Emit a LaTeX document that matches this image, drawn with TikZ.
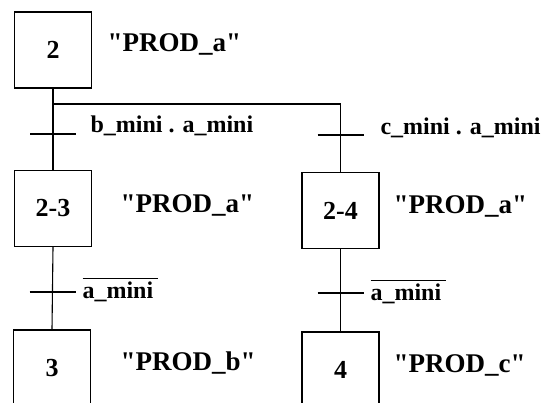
\documentclass[tikz,border=0pt]{standalone}
\usepackage{fontspec}
\setmainfont{Liberation Serif}
% negated receptivity: text with a bar over it
\newcommand{\negbar}[1]{\vbox{\hrule height 1.2pt\kern 3.5pt\hbox{#1\kern5pt}}}
\newcommand{\qt}[1]{\textquotedbl#1\textquotedbl}
\begin{document}
\begin{tikzpicture}[x=1pt,y=-1pt,
  line width=1.1pt,
  stepbox/.style={draw, line width=1.2pt, minimum width=77pt, minimum height=76pt,
    inner sep=0pt, font=\fontsize{26}{28}\selectfont\bfseries},
  action/.style={anchor=base west, inner sep=0pt, font=\fontsize{27}{30}\selectfont\bfseries},
  cond/.style={anchor=base west, inner sep=0pt, font=\fontsize{24}{26}\selectfont\bfseries},
  bar/.style={line width=1.1pt}]
\useasboundingbox (0,0) rectangle (544,403);
\clip (0,0) rectangle (544,403);

% steps
\node[stepbox] (s2)  at (53,50)      {2};
\node[stepbox] (s23) at (53,208.5)   {2-3};
\node[stepbox] (s24) at (340.5,210.5) {2-4};
\node[stepbox] (s3)  at (52,368)     {3};
\node[stepbox] (s4)  at (340.5,370)  {4};

% actions
\node[action] (a2)  at (107,52)  {\qt{PROD\_a}};
\node[action] (a23) at (120,213) {\qt{PROD\_a}};
\node[action] (a24) at (393,214) {\qt{PROD\_a}};
\node[action] (a3)  at (120,371) {\qt{PROD\_b}};
\node[action] (a4)  at (393,373) {\qt{PROD\_c}};

% links and divergence
\coordinate (div) at (53,104);
\draw (s2.south) -- (s23.north);
\draw (div) -| (s24.north);
\draw (s23.south) -- (s3.north);
\draw (s24.south) -- (s4.north);

% transitions
\coordinate (t1) at (53,134);
\coordinate (t2) at (340.5,135);
\coordinate (t3) at (52.5,292);
\coordinate (t4) at (340.5,293);
\foreach \t in {t1,t2,t3,t4}
  \draw[bar] ([xshift=-23pt]\t) -- ([xshift=23pt]\t);

% receptivities
\node[cond] (c1) at (90,133)  {b\_mini . a\_mini};
\node[cond] (c2) at (380,135) {c\_mini . a\_mini};
\node[cond] (c3) at (82,299)  {\negbar{a\_mini}};
\node[cond] (c4) at (370,301) {\negbar{a\_mini}};
\end{tikzpicture}
\end{document}
